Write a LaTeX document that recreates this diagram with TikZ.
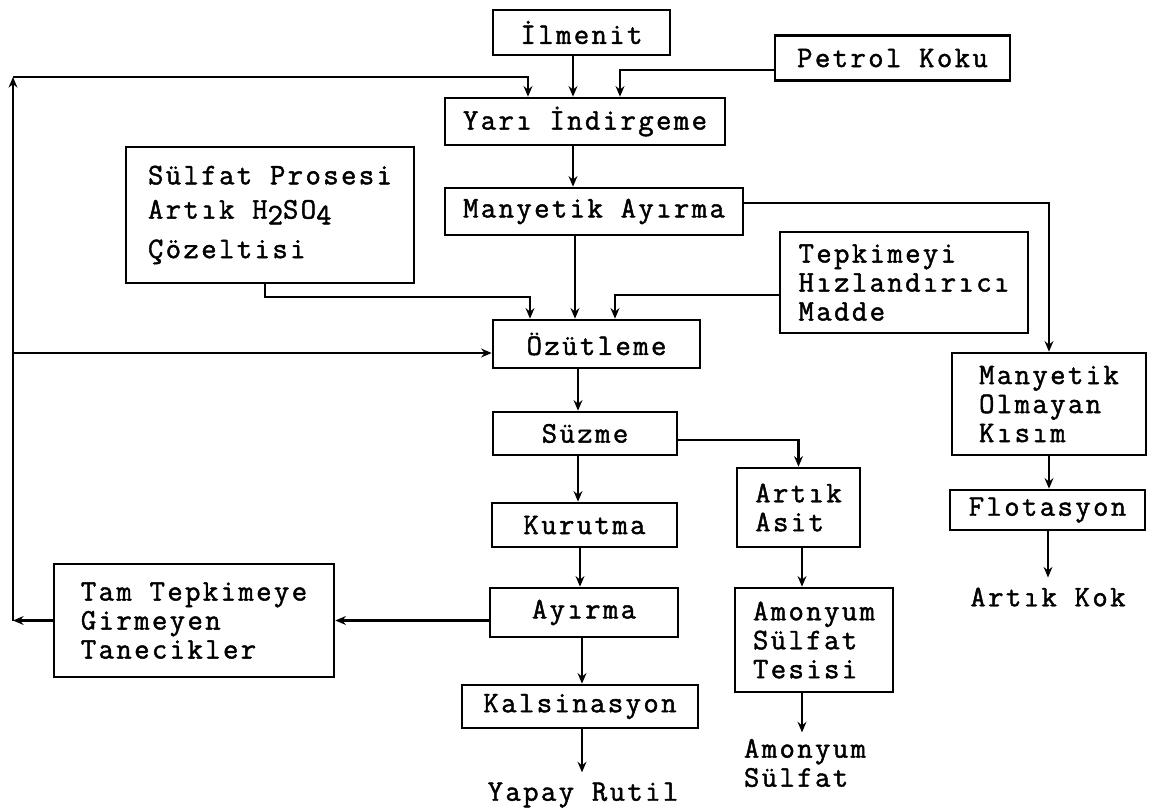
\documentclass[tikz,border=0pt]{standalone}
\usepackage{fontspec}
\usepackage{tikz}
\usetikzlibrary{arrows.meta}
\newfontfamily\tw[LetterSpace=8,FakeBold=1.5]{Latin Modern Mono}
\newcommand\twfont{\tw\fontsize{17pt}{16.5pt}\selectfont}

\begin{document}
\begin{tikzpicture}
[x=0.02cm,y=-0.02cm,line width=1.5pt,>={Stealth[length=6pt,width=5pt]},
 every node/.style={font=\twfont,align=left,inner sep=0pt},
 box/.style={draw,line width=1.5pt}]
\useasboundingbox (0,0) rectangle (1154,812);
\node[box,minimum width=3.54cm,minimum height=0.90cm] (ilm) at (581.5,32.5) {İlmenit};
\node[box,minimum width=4.70cm,minimum height=0.90cm] (pet) at (892.5,58) {Petrol Koku};
\node[box,minimum width=5.60cm,minimum height=0.94cm] (yar) at (585,121.5) {Yarı İndirgeme};
\node[box,minimum width=5.96cm,minimum height=0.94cm] (man) at (594,211.5) {Manyetik Ayırma};
\node[box,minimum width=5.76cm,minimum height=2.72cm] (sul) at (270,215) {Sülfat Prosesi\\[3pt]Artık H\raisebox{-0.45ex}{2}SO\raisebox{-0.45ex}{4}\\[6pt]Çözeltisi};
\node[box,minimum width=4.96cm,minimum height=2.02cm] (tep) at (904,282.5) {Tepkimeyi\\Hızlandırıcı\\Madde};
\node[box,minimum width=4.14cm,minimum height=0.96cm] (ozu) at (596.5,344) {Özütleme};
\node[box,minimum width=3.88cm,minimum height=2.04cm] (mol) at (1049,404) {Manyetik\\Olmayan\\Kısım};
\node[box,minimum width=3.68cm,minimum height=0.86cm] (suz) at (585,433.5) {Süzme};
\node[box,minimum width=2.46cm,minimum height=1.58cm] (asit) at (798.5,507.5) {Artık\\Asit};
\node[box,minimum width=3.90cm,minimum height=0.80cm] (flo) at (1047.5,510) {Flotasyon};
\node[box,minimum width=3.70cm,minimum height=0.88cm] (kur) at (584.5,525) {Kurutma};
\node[box,minimum width=5.60cm,minimum height=2.26cm] (tam) at (194,620.5) {Tam Tepkimeye\\Girmeyen\\Tanecikler};
\node[box,minimum width=3.76cm,minimum height=0.98cm] (ayi) at (584,612.5) {Ayırma};
\node[box,minimum width=3.16cm,minimum height=2.08cm] (ams) at (814,640) {Amonyum\\Sülfat\\Tesisi};
\node[box,minimum width=4.72cm,minimum height=0.86cm] (kal) at (580,706.5) {Kalsinasyon};
\node[inner sep=5pt] (kok) at (1048,597) {Artık Kok};
\node[inner sep=5pt] (rut) at (583,795) {Yapay Rutil};
\node[inner sep=3pt] (amsout) at (805,763) {Amonyum\\Sülfat};
\coordinate (lb) at (13,620.5);
\coordinate (lt) at (13,77);
% geri donus
\draw[->] (tam.west) -- (lb);
\draw[->] (lb) -- (lt);
\draw[->] (lt) -| (yar.north -| 528,0);
\draw[->] (13,353) -- (ozu.west |- 0,353);
% ana akis
\draw[->] (ilm.south -| 573,0) -- (yar.north -| 573,0);
\draw[->] (pet.west |- 0,70) -| (yar.north -| 620,0);
\draw[->] (yar.south -| 573,0) -- (man.north -| 573,0);
\draw[->] (man.south -| 575,0) -- (ozu.north -| 575,0);
\draw[->] (sul.south -| 265,0) |- (530,297) -- (ozu.north -| 530,0);
\draw[->] (tep.west |- 0,295) -| (ozu.north -| 615,0);
\draw[->] (man.east |- 0,203) -| (mol.north);
\draw[->] (mol.south) -- (mol.south |- flo.north);
\draw[->] (flo.south -| kok.north) -- (kok.north);
\draw[->] (ozu.south -| 578,0) -- (suz.north -| 578,0);
\draw[->] (suz.east |- 0,440) -| (asit.north);
\draw[->] (suz.south -| 578,0) -- (kur.north -| 578,0);
\draw[->] (kur.south -| 580,0) -- (ayi.north -| 580,0);
\draw[->] (ayi.west |- tam.east) -- (tam.east);
\draw[->] (ayi.south -| 582,0) -- (kal.north -| 582,0);
\draw[->] (kal.south -| 582,0) -- (rut.north -| 582,0);
\draw[->] (asit.south -| 802,0) -- (ams.north -| 802,0);
\draw[->] (ams.south -| 802,0) -- (amsout.north -| 802,0);
\end{tikzpicture}
\end{document}
